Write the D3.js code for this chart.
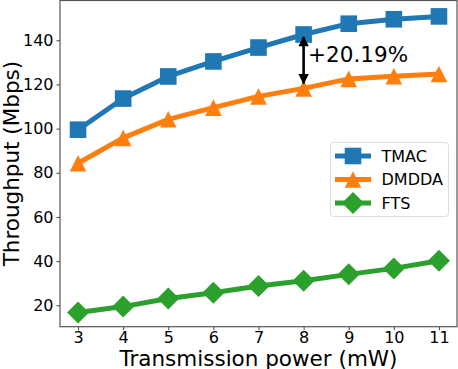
<!DOCTYPE html>
<html><head><meta charset="utf-8">
<script src="https://cdn.jsdelivr.net/npm/d3@7"></script>
<style>body{margin:0;background:#fff}svg{display:block}text{font-family:"DejaVu Sans",sans-serif;fill:#000}</style>
</head><body><svg id="c" width="458" height="369"></svg>
<script>
const powers = [3, 4, 5, 6, 7, 8, 9, 10, 11];
const tmac  = [99.5, 113.6, 123.6, 130.4, 136.7, 142.6, 147.5, 149.5, 150.8];
const dmdda = [84.3, 95.8, 104.2, 109.5, 114.6, 118.2, 122.5, 123.7, 124.7];
const fts   = [16.7, 19.4, 23.1, 25.7, 28.7, 31.1, 34.0, 36.7, 40.2];
const seriesNames = ["TMAC", "DMDDA", "FTS"];
const seriesColors = ["#1f77b4", "#ff7f0e", "#2ca02c"];
const yTicks = [20, 40, 60, 80, 100, 120, 140];
const annotText = "+20.19%";
const annotAt = 8;

const svg = d3.select("#c");
const L = 60, R = 457, T = 0.5, B = 326.7;
const x = d3.scaleLinear().domain([2.6, 11.4]).range([L, R]);
const y = d3.scaleLinear().domain([10.3, 158.0]).range([B, T]);

// axes
const gx = svg.append("g").attr("transform", `translate(0,${B})`)
  .call(d3.axisBottom(x).tickValues(powers).tickSize(3.5).tickPadding(1.8).tickFormat(d3.format("d")));
const gy = svg.append("g").attr("transform", `translate(${L},0)`)
  .call(d3.axisLeft(y).tickValues(yTicks).tickSize(3.5).tickPadding(3).tickFormat(d3.format("d")));
[gx, gy].forEach(g => {
  g.select(".domain").remove();
  g.selectAll(".tick line").attr("stroke", "#444").attr("stroke-width", 1);
  g.selectAll(".tick text").style("font-family", "DejaVu Sans").style("font-size", "16px").attr("fill", "#000");
});
// spines
svg.append("rect").attr("x", L).attr("y", T).attr("width", R - L).attr("height", B - T)
  .attr("fill", "none").attr("stroke", "#555").attr("stroke-width", 1.2);

const data = [tmac, dmdda, fts];
const line = d3.line().x((d, i) => x(powers[i])).y(d => y(d));
data.forEach((vals, k) => {
  svg.append("path").datum(vals).attr("d", line).attr("fill", "none")
    .attr("stroke", seriesColors[k]).attr("stroke-width", 5).attr("stroke-linejoin", "round");
});
function marker(g, k, cx, cy) {
  const c = seriesColors[k];
  if (k === 0) {
    g.append("rect").attr("x", cx - 8.3).attr("y", cy - 8.3).attr("width", 16.6).attr("height", 16.6).attr("fill", c);
  } else if (k === 1) {
    const h = 8.3;
    g.append("path").attr("d", `M${cx},${cy - h}L${cx + h},${cy + h}L${cx - h},${cy + h}Z`).attr("fill", c);
  } else {
    const h = 11;
    g.append("path").attr("d", `M${cx},${cy - h}L${cx + h},${cy}L${cx},${cy + h}L${cx - h},${cy}Z`).attr("fill", c);
  }
}
data.forEach((vals, k) => {
  const g = svg.append("g");
  vals.forEach((v, i) => marker(g, k, x(powers[i]), y(v)));
});

// annotation arrow
const ai = powers.indexOf(annotAt);
const ax = x(annotAt), y1 = y(tmac[ai]) + 2.5, y2 = y(dmdda[ai]) - 5;
svg.append("defs").html(`<marker id="ah" viewBox="0 0 10 10" refX="9" refY="5" markerWidth="4.2" markerHeight="4" orient="auto-start-reverse" markerUnits="strokeWidth"><path d="M0,0L10,5L0,10Z" fill="#000"/></marker>`);
svg.append("line").attr("x1", ax).attr("x2", ax).attr("y1", y1).attr("y2", y2)
  .attr("stroke", "#000").attr("stroke-width", 2.6)
  .attr("marker-start", "url(#ah)").attr("marker-end", "url(#ah)");
svg.append("text").attr("x", ax + 4.5).attr("y", 62).style("font-size", "21.5px").text(annotText);

// legend
const lg = svg.append("g");
lg.append("rect").attr("x", 330.5).attr("y", 142.5).attr("width", 118).attr("height", 74).attr("rx", 3)
  .attr("fill", "#fff").attr("fill-opacity", 0.8).attr("stroke", "#ddd").attr("stroke-width", 1);
seriesNames.forEach((n, k) => {
  const cy = 156 + k * 23.5;
  lg.append("line").attr("x1", 335).attr("x2", 371).attr("y1", cy).attr("y2", cy)
    .attr("stroke", seriesColors[k]).attr("stroke-width", 5);
  marker(lg, k, 353, cy);
  lg.append("text").attr("x", 381.5).attr("y", cy).attr("dy", "0.36em").style("font-size", "16px").text(n);
});

// axis labels
svg.append("text").attr("x", (L + R) / 2).attr("y", 365.5).attr("text-anchor", "middle")
  .style("font-size", "21.5px").text("Transmission power (mW)");
svg.append("text").attr("transform", `translate(19,${(T + B) / 2}) rotate(-90)`).attr("text-anchor", "middle")
  .style("font-size", "21.5px").text("Throughput (Mbps)");
</script></body></html>
